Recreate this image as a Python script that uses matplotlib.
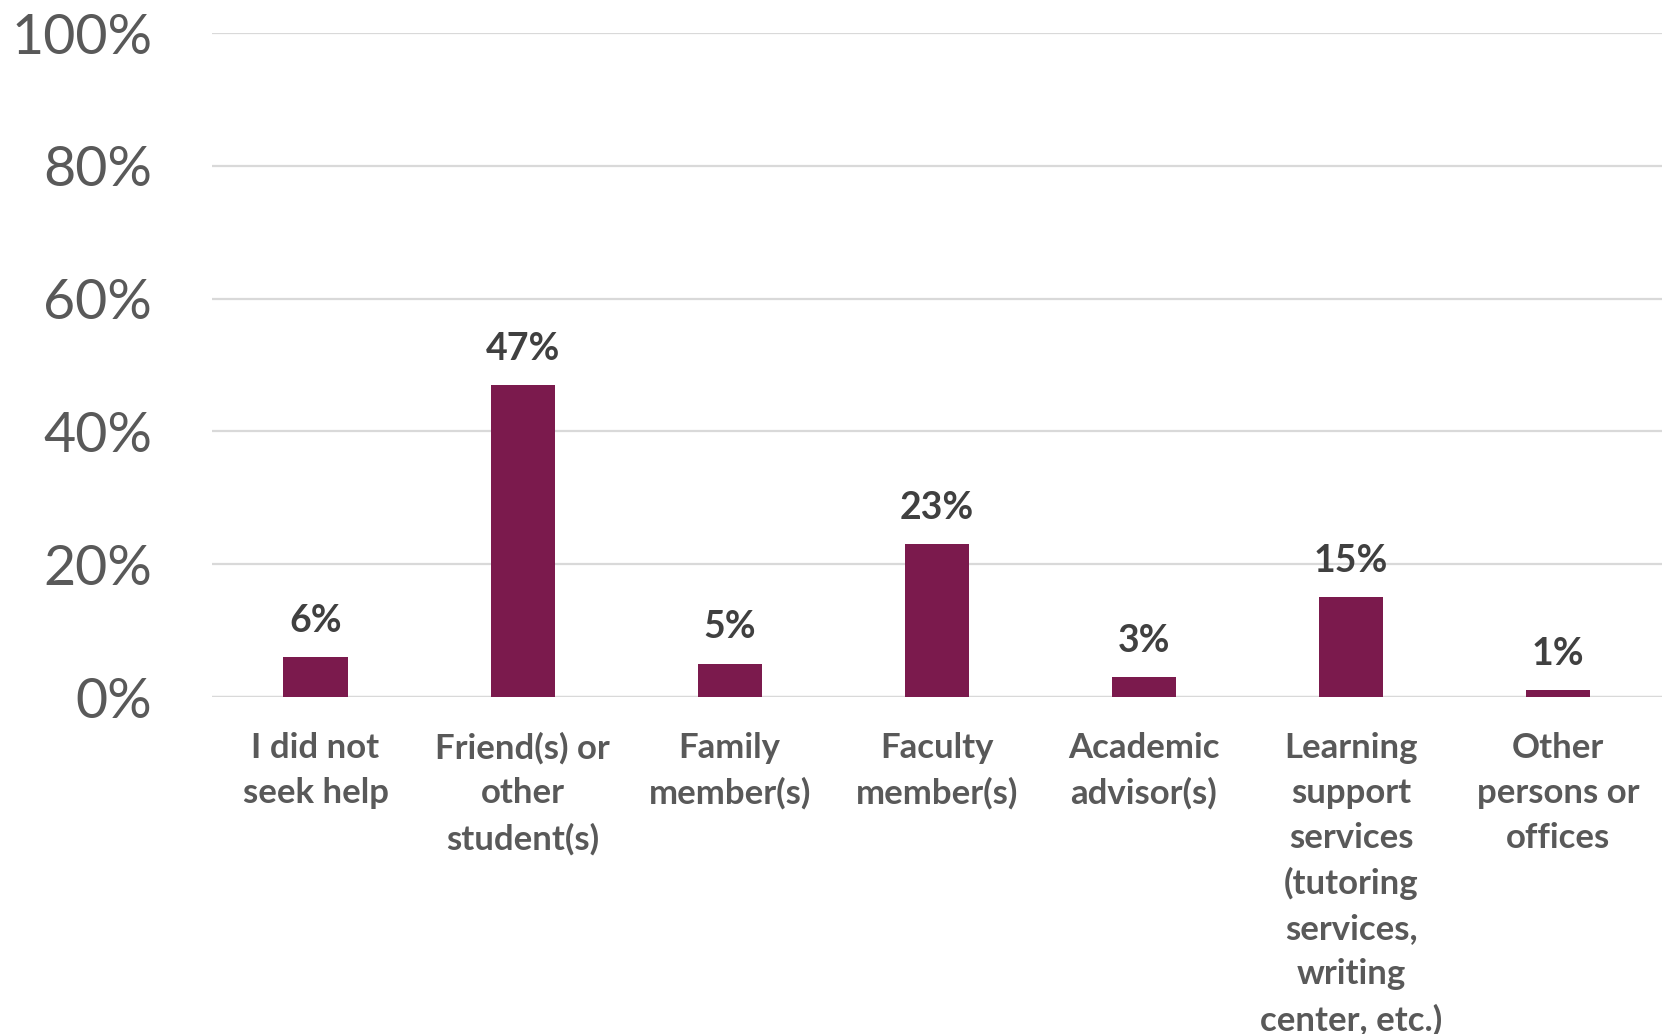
import matplotlib
matplotlib.use("Agg")
import matplotlib.pyplot as plt

# Where students turned for help
categories = [
    "I did not\nseek help",
    "Friend(s) or\nother\nstudent(s)",
    "Family\nmember(s)",
    "Faculty\nmember(s)",
    "Academic\nadvisor(s)",
    "Learning\nsupport\nservices\n(tutoring\nservices,\nwriting\ncenter, etc.)",
    "Other\npersons or\noffices",
]
percentages = [6, 47, 5, 23, 3, 15, 1]
y_ticks = [0, 20, 40, 60, 80, 100]
y_tick_labels = ["0%", "20%", "40%", "60%", "80%", "100%"]

BAR_COLOR = "#7B1A4D"
GRID_COLOR = "#D9D9D9"
AXIS_TEXT = "#595959"
LABEL_TEXT = "#404040"

plt.rcParams["font.family"] = ["Lato", "DejaVu Sans"]

fig = plt.figure(figsize=(16.65, 10.34), dpi=100)
ax = fig.add_axes([0.1273, 0.3259, 0.8707, 0.6421])

x = list(range(len(categories)))
bars = ax.bar(x, percentages, width=0.31, color=BAR_COLOR, zorder=3)

ax.set_xlim(-0.5, len(categories) - 0.5)
ax.set_ylim(0, 100)
ax.set_yticks(y_ticks)
ax.set_yticklabels(y_tick_labels, fontsize=40, color=AXIS_TEXT)
ax.set_xticks(x)
ax.set_xticklabels(categories, fontsize=25, fontweight="bold", color=AXIS_TEXT,
                   linespacing=1.5, va="top")

ax.tick_params(axis="y", length=0, pad=43)
ax.tick_params(axis="x", length=0, pad=25)

ax.yaxis.grid(True, color=GRID_COLOR, linewidth=1.6, zorder=0)
ax.set_axisbelow(True)
for side in ("top", "right", "left", "bottom"):
    ax.spines[side].set_visible(False)
ax.axhline(0, color=GRID_COLOR, linewidth=1.6, zorder=2)

for bar, val in zip(bars, percentages):
    ax.annotate(f"{val}%", (bar.get_x() + bar.get_width() / 2, bar.get_height()),
                xytext=(0, 14), textcoords="offset points",
                ha="center", va="bottom", fontsize=27, fontweight="bold",
                color=LABEL_TEXT)

fig.savefig("out.png", dpi=100, facecolor="white")
